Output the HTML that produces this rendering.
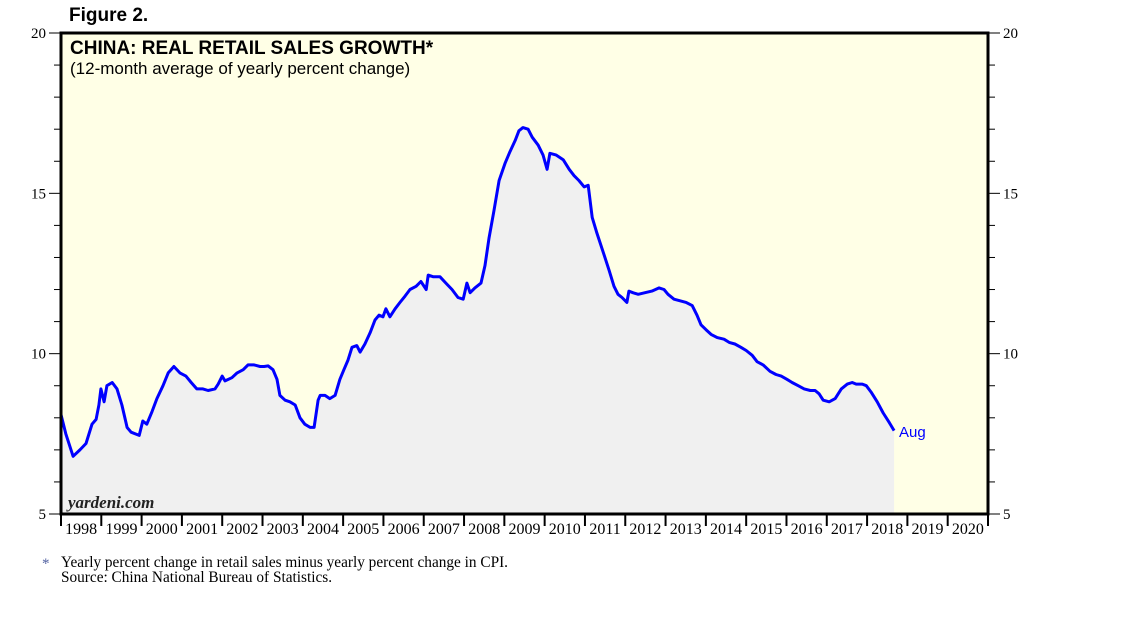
<!DOCTYPE html>
<html><head><meta charset="utf-8"><style>
body{margin:0;background:#fff;}
svg{display:block;}
</style></head><body>
<svg width="1138" height="621" xmlns="http://www.w3.org/2000/svg">
<text x="69" y="21" font-family="Liberation Sans, sans-serif" font-weight="bold" font-size="19">Figure 2.</text>
<rect x="61" y="33" width="927" height="481" fill="#ffffe6"/>
<g id="area"></g>
<g id="line"></g>
<g id="axes"></g>
<rect x="61" y="33" width="927" height="481" fill="none" stroke="#000" stroke-width="3"/>
<text x="70" y="54" font-family="Liberation Sans, sans-serif" font-weight="bold" font-size="19">CHINA: REAL RETAIL SALES GROWTH*</text>
<text x="70" y="74" font-family="Liberation Sans, sans-serif" font-size="17">(12-month average of yearly percent change)</text>
<text x="68" y="508" font-family="Liberation Serif, serif" font-style="italic" font-weight="bold" font-size="17" fill="#222">yardeni.com</text>
<text x="899" y="437" font-family="Liberation Sans, sans-serif" font-size="15" fill="#0000ff">Aug</text>
<text x="42" y="568" font-family="Liberation Serif, serif" font-size="15" fill="#5060a0">*</text>
<text x="61" y="567" font-family="Liberation Serif, serif" font-size="15.3">Yearly percent change in retail sales minus yearly percent change in CPI.</text>
<text x="61" y="582" font-family="Liberation Serif, serif" font-size="15.3">Source: China National Bureau of Statistics.</text>
</svg>
<script>
const dates=[1998.00,1998.12,1998.30,1998.47,1998.62,1998.77,1998.87,1998.94,1998.99,1999.07,1999.14,1999.27,1999.39,1999.51,1999.64,1999.74,1999.94,2000.03,2000.13,2000.26,2000.38,2000.53,2000.66,2000.80,2000.95,2001.10,2001.23,2001.37,2001.52,2001.65,2001.82,2001.90,2002.00,2002.07,2002.24,2002.37,2002.52,2002.64,2002.79,2002.94,2003.04,2003.14,2003.26,2003.36,2003.43,2003.56,2003.68,2003.81,2003.93,2004.05,2004.18,2004.28,2004.38,2004.43,2004.55,2004.67,2004.80,2004.92,2005.02,2005.12,2005.22,2005.34,2005.42,2005.54,2005.67,2005.79,2005.89,2005.99,2006.06,2006.16,2006.29,2006.41,2006.54,2006.66,2006.81,2006.93,2007.06,2007.11,2007.23,2007.40,2007.55,2007.70,2007.85,2007.98,2008.07,2008.15,2008.27,2008.42,2008.52,2008.62,2008.74,2008.87,2009.02,2009.14,2009.27,2009.36,2009.46,2009.59,2009.69,2009.84,2009.96,2010.06,2010.13,2010.28,2010.46,2010.61,2010.73,2010.85,2010.98,2011.08,2011.18,2011.30,2011.47,2011.60,2011.72,2011.82,2011.92,2012.04,2012.09,2012.19,2012.32,2012.49,2012.66,2012.84,2012.96,2013.06,2013.21,2013.36,2013.51,2013.66,2013.78,2013.88,2014.00,2014.13,2014.28,2014.45,2014.58,2014.72,2014.87,2015.00,2015.15,2015.27,2015.42,2015.59,2015.74,2015.87,2016.01,2016.14,2016.29,2016.44,2016.59,2016.71,2016.81,2016.91,2017.06,2017.21,2017.36,2017.51,2017.63,2017.73,2017.88,2017.98,2018.10,2018.25,2018.40,2018.55,2018.67];
const values=[8.1,7.5,6.8,7.0,7.2,7.8,7.95,8.4,8.9,8.5,9.0,9.1,8.9,8.4,7.7,7.55,7.45,7.9,7.8,8.2,8.6,9.0,9.4,9.6,9.4,9.3,9.1,8.9,8.9,8.85,8.9,9.05,9.3,9.15,9.25,9.4,9.5,9.65,9.65,9.6,9.6,9.62,9.5,9.2,8.7,8.55,8.5,8.4,8.0,7.8,7.7,7.7,8.55,8.7,8.7,8.6,8.7,9.2,9.5,9.8,10.2,10.25,10.05,10.3,10.65,11.05,11.2,11.15,11.4,11.15,11.4,11.6,11.8,12.0,12.1,12.25,12.0,12.45,12.4,12.4,12.2,12.0,11.75,11.7,12.2,11.9,12.05,12.2,12.75,13.6,14.45,15.4,15.95,16.3,16.65,16.95,17.05,17.0,16.75,16.5,16.2,15.75,16.25,16.2,16.05,15.75,15.55,15.4,15.2,15.25,14.25,13.75,13.1,12.6,12.1,11.85,11.75,11.6,11.95,11.9,11.85,11.9,11.95,12.05,12.0,11.85,11.7,11.65,11.6,11.5,11.2,10.9,10.75,10.6,10.5,10.45,10.35,10.3,10.2,10.1,9.95,9.75,9.65,9.45,9.35,9.3,9.2,9.1,9.0,8.9,8.85,8.85,8.75,8.55,8.5,8.6,8.9,9.05,9.1,9.05,9.05,9.0,8.8,8.5,8.15,7.85,7.6];
const yearLabels=["1998","1999","2000","2001","2002","2003","2004","2005","2006","2007","2008","2009","2010","2011","2012","2013","2014","2015","2016","2017","2018","2019","2020"];
const yTicks=[5,10,15,20];
const NS="http://www.w3.org/2000/svg";
const X0=61,X1=988,Y0=514,Y1=33,T0=1998,T1=2021,V0=5,V1=20;
const xs=t=>X0+(t-T0)/(T1-T0)*(X1-X0);
const ys=v=>Y0-(v-V0)/(V1-V0)*(Y0-Y1);
function mk(tag,attrs,parent){const e=document.createElementNS(NS,tag);for(const k in attrs)e.setAttribute(k,attrs[k]);parent.appendChild(e);return e;}
let d="";
dates.forEach((t,i)=>{d+=(i?"L":"M")+xs(t).toFixed(1)+","+ys(values[i]).toFixed(1);});
const areaD=d+"L"+xs(dates[dates.length-1]).toFixed(1)+","+Y0+"L"+xs(dates[0]).toFixed(1)+","+Y0+"Z";
const area=mk("path",{d:areaD,fill:"#f0f0f0"},document.getElementById("area"));


const line=mk("path",{d:d,fill:"none",stroke:"#0000ff","stroke-width":3,"stroke-linejoin":"round"},document.getElementById("line"));


const ax=document.getElementById("axes");
for(let v=V0;v<=V1;v++){
  const major=yTicks.includes(v);
  const len=major?12:7;
  const l=mk("line",{x1:X0-len,x2:X0,y1:ys(v),y2:ys(v),stroke:"#000","stroke-width":1},ax);
  
  
  const r=mk("line",{x1:X1,x2:X1+len,y1:ys(v),y2:ys(v),stroke:"#000","stroke-width":1},ax);
  
  
}
yTicks.forEach(v=>{
  const a=mk("text",{x:X0-15,y:ys(v)+5,"text-anchor":"end","font-family":"Liberation Serif, serif","font-size":15},ax);
  a.textContent=v;
  
  
  const b=mk("text",{x:X1+15,y:ys(v)+5,"font-family":"Liberation Serif, serif","font-size":15},ax);
  b.textContent=v;
  
  
});
yearLabels.forEach((lab,i)=>{
  const t=T0+i;
  const tk=mk("line",{x1:xs(t),x2:xs(t),y1:Y0,y2:Y0+12,stroke:"#000","stroke-width":2},ax);
  
  
  const tx=mk("text",{x:xs(t+0.5),y:Y0+20,"text-anchor":"middle","font-family":"Liberation Serif, serif","font-size":16},ax);
  tx.textContent=lab;
  
  
});
const tk=mk("line",{x1:X1,x2:X1,y1:Y0,y2:Y0+12,stroke:"#000","stroke-width":2},ax);


</script>
</body></html>
